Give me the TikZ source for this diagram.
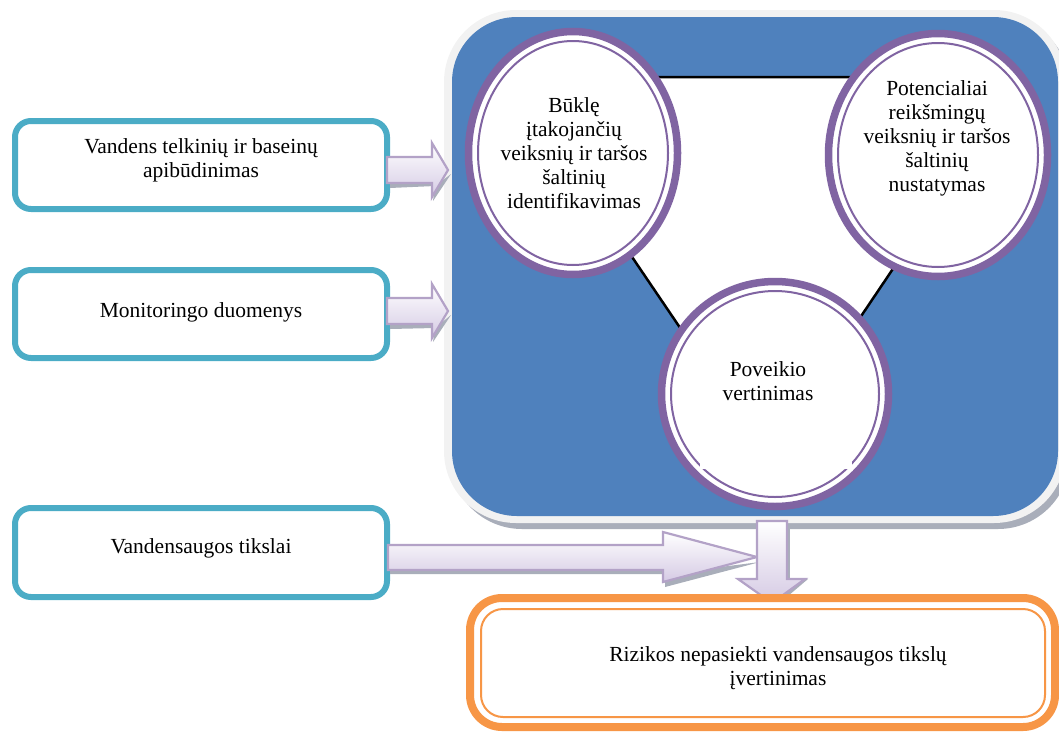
\documentclass[tikz,border=0pt]{standalone}
\usepackage{fontspec}
\setmainfont{Liberation Serif}
\usetikzlibrary{calc,shapes.geometric}

\definecolor{boxteal}{HTML}{4BACC6}
\definecolor{ringpurple}{HTML}{8064A2}
\definecolor{panelblue}{HTML}{4F81BD}
\definecolor{panelgray}{HTML}{F2F2F2}
\definecolor{resultorange}{HTML}{F79646}
\definecolor{arrowline}{HTML}{B3A2C7}
\definecolor{arrowfill}{HTML}{D5CAE4}
\definecolor{shadowgray}{HTML}{A9AEBA}

\tikzset{
  inbox/.style={draw=boxteal, line width=6pt, rounded corners=16pt, fill=white},
  label/.style={align=center, inner sep=0pt},
  ringouter/.style={draw=ringpurple, line width=7.5pt, fill=white},
  ringinner/.style={draw=ringpurple, line width=2pt},
  blockarrow/.style={draw=arrowline, line width=2.2pt, top color=white, bottom color=arrowfill, line join=miter},
  arrowshadow/.style={fill=shadowgray}
}

\begin{document}
\begin{tikzpicture}[x=1pt, y=-1pt, font=\fontsize{21.5}{24}\selectfont]
\path[use as bounding box] (0,0) rectangle (1059,731);
\clip (0,0) rectangle (1059,731);

% ---- input boxes on the left
\draw[inbox] (15,121) rectangle (387,209);
\node[label] (b1) at (201,160) {Vandens telkinių ir baseinų\\apibūdinimas};
\draw[inbox] (15,270) rectangle (387,358);
\node[label] (b2) at (201,312) {Monitoringo duomenys};
\draw[inbox] (15,508) rectangle (387,597);
\node[label] (b3) at (201,548) {Vandensaugos tikslai};

% ---- central panel
\fill[shadowgray, rounded corners=72pt] (450,16) rectangle (1070,529);
\fill[panelgray, rounded corners=72pt] (444,10) rectangle (1066,523);
\fill[panelblue, rounded corners=65pt] (452,17) rectangle (1058,516);

% triangle linking the three steps
\coordinate (t1) at (510,77);
\coordinate (t2) at (1022,77);
\coordinate (t3) at (767,456);
\draw[black, line width=2.5pt, fill=white] (t1) -- (t2) -- (t3) -- cycle;

% step circles
\path[ringouter] (573,153) ellipse [x radius=104.5, y radius=121.5];
\draw[ringinner] (573,153) ellipse [x radius=95, y radius=112];
\node[label] (c1) at (574,153) {Būklę\\įtakojančių\\veiksnių ir taršos\\šaltinių\\identifikavimas};

\path[ringouter] (938,155) ellipse [x radius=109.5, y radius=121.5];
\draw[ringinner] (938,155) ellipse [x radius=100, y radius=112];
\node[label] (c2) at (937,138) {Potencialiai\\reikšmingų\\veiksnių ir taršos\\šaltinių\\nustatymas};

\path[ringouter] (775,394) ellipse [x radius=113.5, y radius=112.5];
\draw[ringinner] (775,394) ellipse [x radius=104, y radius=103];
\fill[white] (700,340) rectangle (852,469);
\node[label] (c3) at (768,381) {Poveikio\\vertinimas};

% ---- small arrows into the panel
\fill[arrowshadow] (390,174) -- (435,174) -- (435,186) -- (433,201) -- (451,174) -- (435,186) -- (390,188) -- cycle;
\fill[arrowshadow] (390,315) -- (435,315) -- (435,328) -- (433,342) -- (451,315) -- (435,328) -- (390,329) -- cycle;
\draw[blockarrow] (387,157) -- (432,157) -- (432,143) -- (448,170) -- (432,197) -- (432,183) -- (387,183) -- cycle;
\draw[blockarrow] (387,298) -- (432,298) -- (432,284) -- (448,311) -- (432,338) -- (432,324) -- (387,324) -- cycle;

% ---- long arrow from the goals box
\fill[arrowshadow] (390,560) -- (665,560) -- (665,587) -- (760,562) -- (665,574) -- (390,574) -- cycle;
\draw[blockarrow] (388,545) -- (663,545) -- (663,532) -- (757,557) -- (663,582) -- (663,570) -- (388,570) -- cycle;

% ---- arrow down from the panel to the result
\fill[arrowshadow] (772,579) -- (808,579) -- (775,607) -- (742,579) -- cycle;
\fill[arrowshadow] (786,524) -- (790,524) -- (790,581) -- (786,581) -- cycle;
\draw[blockarrow] (757,521) -- (787,521) -- (787,579) -- (805,579) -- (772,603) -- (738,579) -- (757,579) -- cycle;

% ---- result box
\draw[draw=resultorange, line width=8pt, rounded corners=32pt, fill=white] (470,598) rectangle (1055,727);
\draw[draw=resultorange, line width=2pt, rounded corners=22pt] (481,609) rectangle (1045,717);
\node[label] (r) at (778,668) {Rizikos nepasiekti vandensaugos tikslų\\įvertinimas};
\end{tikzpicture}
\end{document}
